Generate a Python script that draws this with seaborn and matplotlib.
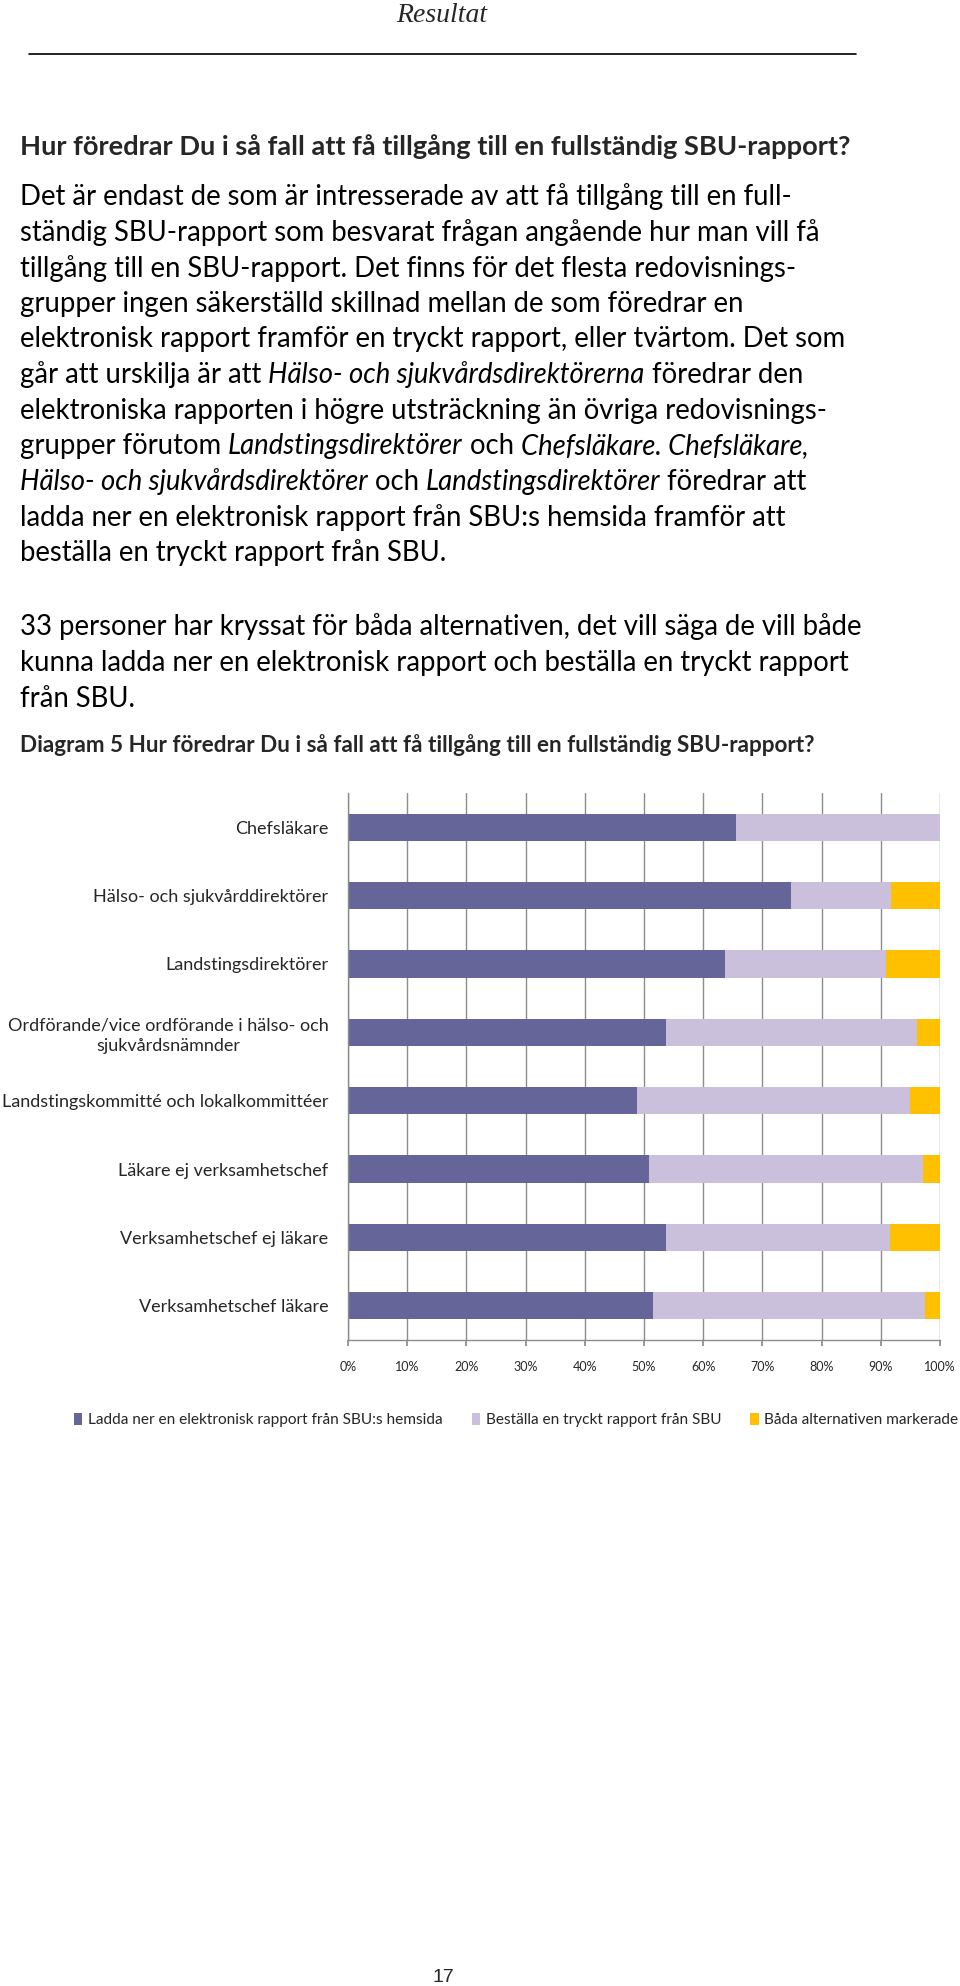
import matplotlib
matplotlib.use('Agg')
import matplotlib.pyplot as plt
from matplotlib.patches import Patch
from matplotlib.lines import Line2D
import seaborn as sns

sns.set_theme(style='white')
plt.rcParams['font.family'] = ['Lato', 'DejaVu Sans']

# data (percent of each group)
groups = ['Chefsläkare',
          'Hälso- och sjukvårddirektörer',
          'Landstingsdirektörer',
          'Ordförande/vice ordförande i hälso- och\nsjukvårdsnämnder',
          'Landstingskommitté och lokalkommittéer',
          'Läkare ej verksamhetschef',
          'Verksamhetschef ej läkare',
          'Verksamhetschef läkare']
ladda_ner = [65.5, 74.9, 63.6, 53.8, 48.9, 50.8, 53.8, 51.5]
bestalla = [34.5, 16.9, 27.2, 42.3, 46.0, 46.4, 37.8, 46.0]
bada = [0.0, 8.2, 9.2, 3.9, 5.1, 2.8, 8.4, 2.5]
series_names = ['Ladda ner en elektronisk rapport från SBU:s hemsida',
                'Beställa en tryckt rapport från SBU',
                'Båda alternativen markerade']
colors = ['#65659a', '#cac0db', '#ffc000']
xticks = [0, 10, 20, 30, 40, 50, 60, 70, 80, 90, 100]

W, H = 960, 1986
fig = plt.figure(figsize=(W / 100, H / 100), dpi=100)
renderer = fig.canvas.get_renderer()


def fy(y):
    return 1 - y / H


def line_of_runs(y, runs, size, x0=20, weight='normal'):
    x = x0
    for txt, style in runs:
        t = fig.text(x / W, fy(y), txt, fontsize=size, fontstyle=style,
                     fontweight=weight, va='center', ha='left', color='black')
        x += t.get_window_extent(renderer).width


# page header
fig.text(442 / W, fy(15), 'Resultat', family='Liberation Serif', style='italic',
         fontsize=20, ha='center', va='center')
fig.add_artist(Line2D([29 / W, 856 / W], [fy(54), fy(54)], color='black', lw=1.2))

fig.text(20 / W, fy(147), 'Hur föredrar Du i så fall att få tillgång till en fullständig SBU-rapport?',
         fontsize=19.6, fontweight='bold', va='center', ha='left')

N, I = 'normal', 'italic'
body = [
    [('Det är endast de som är intresserade av att få tillgång till en full-', N)],
    [('ständig SBU-rapport som besvarat frågan angående hur man vill få', N)],
    [('tillgång till en SBU-rapport. Det finns för det flesta redovisnings-', N)],
    [('grupper ingen säkerställd skillnad mellan de som föredrar en', N)],
    [('elektronisk rapport framför en tryckt rapport, eller tvärtom. Det som', N)],
    [('går att urskilja är att ', N), ('Hälso- och sjukvårdsdirektörerna', I), (' föredrar den', N)],
    [('elektroniska rapporten i högre utsträckning än övriga redovisnings-', N)],
    [('grupper förutom ', N), ('Landstingsdirektörer', I), (' och ', N),
     ('Chefsläkare. Chefsläkare,', I)],
    [('Hälso- och sjukvårdsdirektörer', I), (' och ', N), ('Landstingsdirektörer', I),
     (' föredrar att', N)],
    [('ladda ner en elektronisk rapport från SBU:s hemsida framför att', N)],
    [('beställa en tryckt rapport från SBU.', N)],
]
for i, runs in enumerate(body):
    line_of_runs(197 + i * 35.6, runs, 19.8)

para2 = ['33 personer har kryssat för båda alternativen, det vill säga de vill både',
         'kunna ladda ner en elektronisk rapport och beställa en tryckt rapport',
         'från SBU.']
for i, s in enumerate(para2):
    line_of_runs(627 + i * 36, [(s, N)], 19.8)

fig.text(20 / W, fy(745), 'Diagram 5 Hur föredrar Du i så fall att få tillgång till en fullständig SBU-rapport?',
         fontsize=16.2, fontweight='bold', va='center', ha='left')

# chart
ax = fig.add_axes([348 / W, 1 - 1340 / H, 592 / W, 547 / H])
cum2 = [a + b for a, b in zip(ladda_ner, bestalla)]
cum3 = [a + b for a, b in zip(cum2, bada)]
for vals, c in zip([cum3, cum2, ladda_ner], colors[::-1]):
    sns.barplot(x=vals, y=groups, orient='h', color=c, saturation=1,
                width=0.4, ax=ax, linewidth=0)

ax.set_xlim(0, 100)
ax.set_ylim(7.5, -0.5)
ax.set_xticks(xticks)
ax.set_xticklabels([f'{v}%' for v in xticks], fontsize=9)
ax.tick_params(axis='x', bottom=True, length=4, color='#8c8c8c', pad=11)
ax.tick_params(axis='y', left=False, length=0, labelsize=13, pad=14)
for lab in ax.get_yticklabels():
    lab.set_multialignment('center')
    lab.set_linespacing(1.35)
ax.xaxis.grid(True, color='#8c8c8c', lw=1)
ax.set_axisbelow(True)
for s in ['top', 'right']:
    ax.spines[s].set_visible(False)
for s in ['left', 'bottom']:
    ax.spines[s].set_color('#8c8c8c')
    ax.spines[s].set_linewidth(1)
ax.set_xlabel('')
ax.set_ylabel('')

handles = [Patch(facecolor=c, edgecolor='none', label=n) for c, n in zip(colors, series_names)]
fig.legend(handles=handles, loc='center left', bbox_to_anchor=(74 / W, fy(1420)),
           ncol=3, frameon=False, fontsize=11.1, handlelength=0.55, handleheight=0.9,
           handletextpad=0.35, columnspacing=1.9, borderpad=0, borderaxespad=0)

fig.text(443 / W, fy(1977), '17', family='Liberation Sans', fontsize=14,
         ha='center', va='center')

fig.savefig('out.png', dpi=100, facecolor='white')
